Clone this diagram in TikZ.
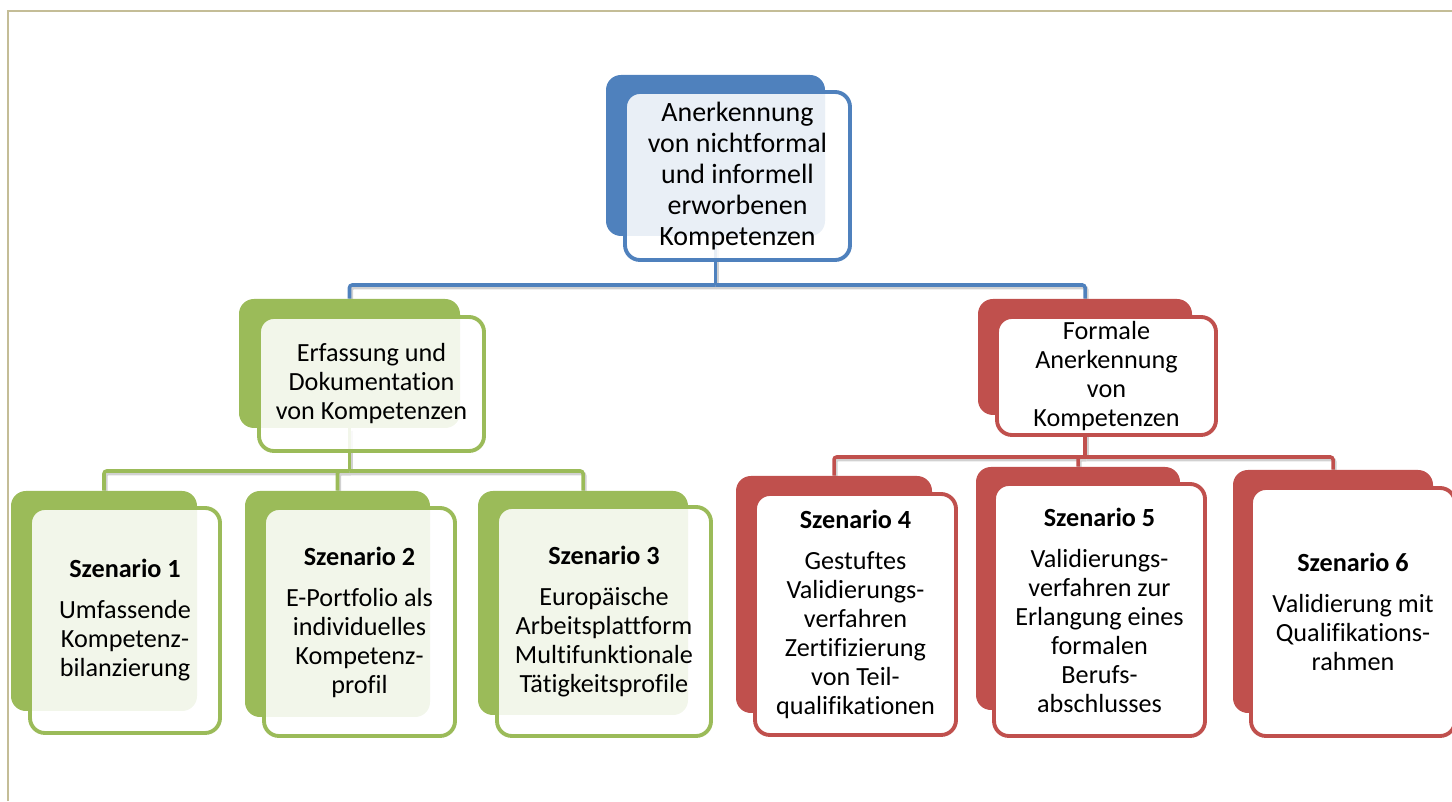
\documentclass[tikz,border=0pt]{standalone}
\usepackage{fontspec}
\setmainfont[Ligatures=NoCommon]{Carlito}
\usepackage{tikz}
\usetikzlibrary{backgrounds}
\definecolor{akblue}{HTML}{4F81BD}
\definecolor{akgreen}{HTML}{9BBB59}
\definecolor{akred}{HTML}{C0504D}
\definecolor{akframe}{HTML}{C4BD97}
\newcommand{\topfont}{\fontsize{15.9}{17.6}\selectfont}
\newcommand{\cardfont}{\fontsize{14.9}{16.5}\selectfont}
\tikzset{
  card/.style       = {rounded corners=8.5pt, align=center, inner sep=2pt,
                       font=\cardfont, text=black},
  backblue/.style   = {card, fill=akblue},
  backgreen/.style  = {card, fill=akgreen},
  backred/.style    = {card, fill=akred},
  frontblue/.style  = {card, draw=akblue, line width=2.2pt, fill=white,
                       fill opacity=0.88, text opacity=1, font=\topfont},
  frontgreen/.style = {card, draw=akgreen, line width=2.2pt, fill=white,
                       fill opacity=0.88, text opacity=1},
  frontred/.style   = {card, draw=akred, line width=2.2pt, fill=white},
  %
  tie/.style        = {line width=2pt, rounded corners=1.5pt,
                       preaction={draw=black!18, line width=2.4pt,
                       transform canvas={xshift=0.8pt, yshift=-1.3pt}}},
  bluetie/.style    = {tie, draw=akblue},
  greentie/.style   = {tie, draw=akgreen},
  redtie/.style     = {tie, draw=akred},
}

\begin{document}
\begin{tikzpicture}

  \useasboundingbox (0,0) rectangle (29.04,16.02);
  \draw[akframe, line width=1.1pt] (0.16,0) -- (0.16,15.80) -- (29.04,15.80);

  % ---------- top ---------------------------------------------------------
  \node[backblue, minimum width=4.38cm, minimum height=3.22cm] (topb) at (14.31,12.91) {};
  \node[frontblue, minimum width=4.50cm, minimum height=3.36cm] (top) at (14.75,12.50)
    {Anerkennung\\ von nichtformal\\ und informell\\ erworbenen\\ Kompetenzen};

  % ---------- second row --------------------------------------------------
  \node[backgreen, minimum width=4.42cm, minimum height=2.58cm] (grnb) at (6.99,8.75) {};
  \node[frontgreen, minimum width=4.50cm, minimum height=2.68cm] (grn) at (7.43,8.34)
    {Erfassung und\\ Dokumentation\\ von Kompetenzen};

  \node[backred, minimum width=4.28cm, minimum height=2.32cm] (redb) at (21.70,8.88) {};
  \node[frontred, minimum width=4.38cm, minimum height=2.36cm] (red) at (22.13,8.50)
    {Formale\\ Anerkennung\\ von\\ Kompetenzen};

  % ---------- scenarios, green --------------------------------------------
  \node[backgreen, minimum width=3.72cm, minimum height=4.40cm] (s1b) at (2.08,4.00) {};
  \node[frontgreen, minimum width=3.80cm, minimum height=4.50cm] (s1) at (2.50,3.61)
    {\textbf{Szenario 1}\\[6.8pt] Umfassende\\ Kompetenz-\\ bilanzierung};

  \node[backgreen, minimum width=3.70cm, minimum height=4.52cm] (s2b) at (6.75,3.94) {};
  \node[frontgreen, minimum width=3.82cm, minimum height=4.56cm] (s2) at (7.19,3.58)
    {\textbf{Szenario 2}\\[6.8pt] E-Portfolio als\\ individuelles\\ Kompetenz-\\ profil};

  \node[backgreen, minimum width=4.20cm, minimum height=4.48cm] (s3b) at (11.66,3.96) {};
  \node[frontgreen, minimum width=4.28cm, minimum height=4.58cm] (s3) at (12.08,3.59)
    {\textbf{Szenario 3}\\[6.8pt] Europäische\\ Arbeitsplattform\\ Multifunktionale\\
     Tätigkeitsprofile};

  % ---------- scenarios, red ----------------------------------------------
  \node[backred, minimum width=3.92cm, minimum height=4.74cm] (s4b) at (16.68,4.13) {};
  \node[frontred, minimum width=4.02cm, minimum height=4.82cm] (s4) at (17.11,3.73)
    {\textbf{Szenario 4}\\[6.8pt] Gestuftes\\ Validierungs-\\ verfahren\\ Zertifizierung\\
     von Teil-\\ qualifikationen};

  \node[backred, minimum width=4.08cm, minimum height=4.86cm] (s5b) at (21.56,4.25) {};
  \node[frontred, minimum width=4.22cm, minimum height=5.04cm] (s5) at (21.99,3.82)
    {\textbf{Szenario 5}\\[6.8pt] Validierungs-\\ verfahren zur\\ Erlangung eines\\
     formalen\\ Berufs-\\ abschlusses};

  \node[backred, minimum width=4.00cm, minimum height=4.86cm] (s6b) at (26.66,4.19) {};
  \node[frontred, minimum width=4.08cm, minimum height=4.96cm] (s6) at (27.06,3.78)
    {\textbf{Szenario 6}\\[6.8pt] Validierung mit\\ Qualifikations-\\ rahmen};

  % ---------- connectors --------------------------------------------------
  \coordinate (bj) at (14.31,10.32);
  \coordinate (gj) at (6.99,6.60);
  \coordinate (rj) at (21.70,6.88);

  \begin{scope}[on background layer]
    \draw[bluetie] (topb.south) -- (bj);
    \draw[bluetie] (bj) -| (grnb.north);
    \draw[bluetie] (bj) -| (redb.north);

    \draw[greentie] (grnb.south) -- (gj);
    \draw[greentie] (gj) -| (s1b.north);
    \draw[greentie] (gj) -| (s2b.north);
    \draw[greentie] (gj) -| (s3b.north);

    \draw[redtie] (redb.south) -- (rj);
    \draw[redtie] (rj) -| (s4b.north);
    \draw[redtie] (rj) -| (s5b.north);
    \draw[redtie] (rj) -| (s6b.north);
  \end{scope}

\end{tikzpicture}
\end{document}
